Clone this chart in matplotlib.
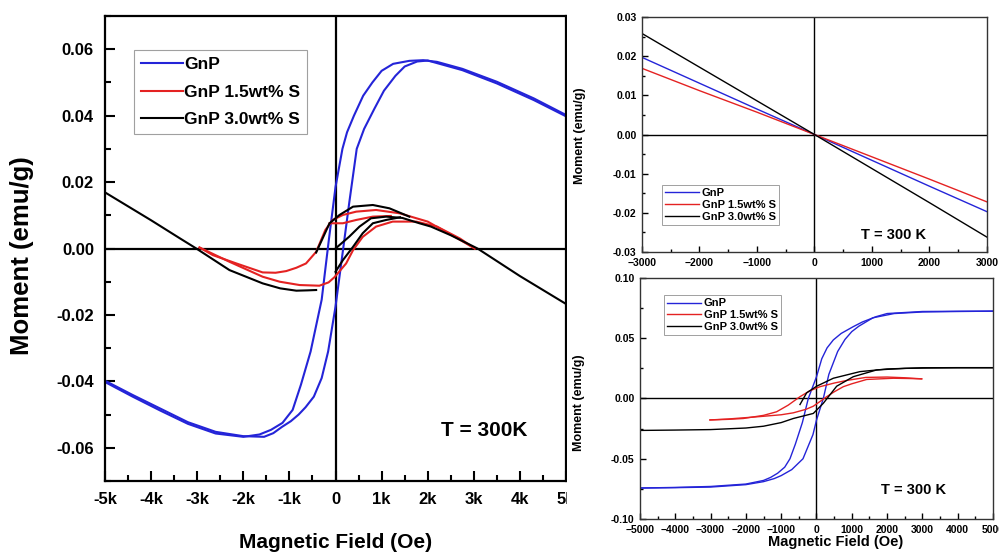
import matplotlib
matplotlib.use("Agg")
import matplotlib.pyplot as plt
from matplotlib.ticker import FixedLocator, FixedFormatter, MultipleLocator
from matplotlib.patches import Rectangle

plt.rcParams['font.family'] = ['Liberation Sans', 'DejaVu Sans']

# ---------------- data: left panel (M-H loops, emu/g vs Oe) ----------------
labels = ["GnP", "GnP 1.5wt% S", "GnP 3.0wt% S"]
colors = ["#2424d8", "#e42222", "#000000"]

gnp_down_h = [5000, 4300, 3500, 2750, 2200, 1900, 1600, 1250, 1000, 800, 600, 400, 250, 150, 0,
              -150, -300, -540, -750, -930, -1150, -1400, -1650, -2000, -2600, -3200, -3800,
              -4400, -5000]
gnp_down_m = [0.0402, 0.0452, 0.0502, 0.0541, 0.0562, 0.0567, 0.0565, 0.0556, 0.0535, 0.0500,
              0.0460, 0.0400, 0.0350, 0.0300, 0.0185, 0.0020, -0.0154, -0.0310, -0.0410,
              -0.0486, -0.0525, -0.0546, -0.0560, -0.0567, -0.0557, -0.0528, -0.0488, -0.0446,
              -0.0402]
gnp_up_h = [-5000, -4400, -3800, -3200, -2600, -2000, -1550, -1350, -1160, -970, -800, -650,
            -470, -300, -160, 0, 100, 200, 300, 460, 620, 840, 1050, 1300, 1500, 1770, 2000,
            2750, 3500, 4300, 5000]
gnp_up_m = [-0.0398, -0.0441, -0.0482, -0.0523, -0.0552, -0.0565, -0.0567, -0.0556, -0.0537,
            -0.0520, -0.0500, -0.0478, -0.0446, -0.0390, -0.0310, -0.0175, -0.0070, 0.0035,
            0.0140, 0.0300, 0.0360, 0.0420, 0.0475, 0.0520, 0.0548, 0.0563, 0.0566, 0.0537,
            0.0497, 0.0447, 0.0398]

s15_a_h = [-2950, -2660, -2150, -1580, -1300, -1070, -850, -640, -420, -220, -60, 160, 450,
           880, 1390, 2000, 2700, 3020]
s15_a_m = [0.0003, -0.0020, -0.0045, -0.0072, -0.0073, -0.0068, -0.0058, -0.0045, -0.0010,
           0.0056, 0.0086, 0.0101, 0.0111, 0.0116, 0.0106, 0.0081, 0.0026, 0.0000]
s15_b_h = [-130, 160, 450, 810, 1200]
s15_b_m = [0.0076, 0.0076, 0.0086, 0.0096, 0.0098]
s15_c_h = [-2950, -2300, -1580, -1210, -780, -350, -150, -20, 230, 380, 590, 880, 1240, 1750,
           2200, 2700, 3020]
s15_c_m = [0.0003, -0.0040, -0.0085, -0.0100, -0.0110, -0.0112, -0.0102, -0.0086, -0.0045,
           -0.0005, 0.0035, 0.0066, 0.0081, 0.0081, 0.0066, 0.0030, 0.0000]

s30_a_h = [-5000, -4000, -3380, -3020, -2300, -1580, -1200, -850, -600, -420]
s30_a_m = [0.0169, 0.0085, 0.0031, 0.0000, -0.0065, -0.0105, -0.0120, -0.0127, -0.0126, -0.0125]
s30_b_h = [-420, -130, 87, 380, 810, 1170, 1600]
s30_b_m = [-0.0012, 0.0076, 0.0101, 0.0126, 0.0131, 0.0121, 0.0096]
s30_c_h = [0, 300, 520, 770, 1100, 1450, 1820, 2070, 2500, 3080, 4000, 5000]
s30_c_m = [0.0000, 0.0036, 0.0066, 0.0091, 0.0096, 0.0092, 0.0076, 0.0066, 0.0040, 0.0000,
           -0.0083, -0.0167]
s30_d_h = [0, 160, 380, 590, 810, 1100, 1400]
s30_d_m = [-0.0070, -0.0035, 0.0005, 0.0046, 0.0076, 0.0086, 0.0094]

left_xticks = [-5000, -4000, -3000, -2000, -1000, 0, 1000, 2000, 3000, 4000, 5000]
left_xticklabels = ["-5k", "-4k", "-3k", "-2k", "-1k", "0", "1k", "2k", "3k", "4k", "5k"]
left_yticks = [-0.06, -0.04, -0.02, 0.0, 0.02, 0.04, 0.06]
left_yticklabels = ["-0.06", "-0.04", "-0.02", "0.00", "0.02", "0.04", "0.06"]

# ---------------- data: top-right panel (linear, +-3000 Oe) ----------------
tr_h = [-3000, -2000, -1000, 0, 1000, 2000, 3000]
tr_gnp = [0.0197, 0.0131, 0.0065, 0.0, -0.0066, -0.0132, -0.0197]
tr_s15 = [0.0169, 0.0112, 0.0057, 0.0, -0.0057, -0.0114, -0.0172]
tr_s30 = [0.0258, 0.0172, 0.0086, 0.0, -0.0087, -0.0174, -0.0262]
tr_xticks = [-3000, -2000, -1000, 0, 1000, 2000, 3000]
tr_yticks = [-0.03, -0.02, -0.01, 0.0, 0.01, 0.02, 0.03]
tr_yticklabels = ["-0.03", "-0.02", "-0.01", "0.00", "0.01", "0.02", "0.03"]

# ---------------- data: bottom-right panel (loops, +-5000 Oe) ----------------
br_gnp_down_h = [5000, 4000, 3000, 2000, 1700, 1300, 1040, 700, 477, 300, 150, 0, -232, -400,
                 -600, -751, -900, -1100, -1300, -1500, -2000, -3000, -4000, -5000]
br_gnp_down_m = [0.0725, 0.0724, 0.0722, 0.0705, 0.0680, 0.0635, 0.0596, 0.0540, 0.0486,
                 0.0420, 0.0330, 0.0180, 0.0, -0.0200, -0.0380, -0.0500, -0.0570, -0.0620,
                 -0.0655, -0.0680, -0.0710, -0.0730, -0.0738, -0.0743]
br_gnp_up_h = [-5000, -4000, -3000, -2000, -1500, -1200, -1000, -700, -382, -100, 0, 193, 350,
               600, 807, 1000, 1200, 1600, 2200, 3000, 4000, 5000]
br_gnp_up_m = [-0.0743, -0.0740, -0.0735, -0.0715, -0.0690, -0.0665, -0.0640, -0.0590, -0.0500,
               -0.0300, -0.0180, 0.0, 0.0200, 0.0390, 0.0490, 0.0555, 0.0600, 0.0670, 0.0705,
               0.0718, 0.0722, 0.0725]
br_s15_up_h = [-3017, -2500, -1600, -1000, -657, -300, -90, 100, 289, 500, 760, 1000, 1422,
               2176, 2600, 2980]
br_s15_up_m = [-0.0178, -0.0170, -0.0150, -0.0135, -0.0119, -0.0090, -0.0064, -0.0025, 0.0015,
               0.0055, 0.0098, 0.0122, 0.0158, 0.0168, 0.0166, 0.0163]
br_s15_down_h = [2980, 2500, 2000, 1400, 860, 500, 99, -200, -467, -800, -1128, -1500, -2074,
                 -2500, -3017]
br_s15_down_m = [0.0163, 0.0172, 0.0178, 0.0175, 0.0150, 0.0128, 0.0098, 0.0062, 0.0015,
                 -0.0055, -0.0110, -0.0140, -0.0166, -0.0173, -0.0178]
br_s30_up_h = [-5000, -4000, -3000, -2000, -1500, -1000, -657, -90, 193, 572, 1043, 1705, 2500,
               3130, 4000, 5000]
br_s30_up_m = [-0.0265, -0.0262, -0.0258, -0.0245, -0.0230, -0.0200, -0.0166, -0.0124, -0.0040,
               0.0102, 0.0181, 0.0237, 0.0250, 0.0253, 0.0255, 0.0255]
br_s30_down_h = [5000, 4000, 3000, 2000, 1232, 476, 6, -278, -467]
br_s30_down_m = [0.0256, 0.0256, 0.0255, 0.0245, 0.0223, 0.0168, 0.0102, 0.0047, -0.0050]
br_xticks = [-5000, -4000, -3000, -2000, -1000, 0, 1000, 2000, 3000, 4000, 5000]
br_yticks = [-0.10, -0.05, 0.0, 0.05, 0.10]
br_yticklabels = ["-0.10", "-0.05", "0.00", "0.05", "0.10"]

# ---------------- figure ----------------
fig = plt.figure(figsize=(9.99, 5.58), dpi=100)
fig.patch.set_facecolor("white")

# ===== Left panel =====
ax = fig.add_axes([0.1051, 0.1380, 0.4615, 0.8333], zorder=0)
lwL = 1.5
ax.plot(gnp_down_h, gnp_down_m, color=colors[0], lw=lwL, label=labels[0])
ax.plot(gnp_up_h, gnp_up_m, color=colors[0], lw=lwL)
ax.plot(s15_a_h, s15_a_m, color=colors[1], lw=lwL, label=labels[1])
ax.plot(s15_b_h, s15_b_m, color=colors[1], lw=lwL)
ax.plot(s15_c_h, s15_c_m, color=colors[1], lw=lwL)
ax.plot(s30_a_h, s30_a_m, color=colors[2], lw=lwL, label=labels[2])
ax.plot(s30_b_h, s30_b_m, color=colors[2], lw=lwL)
ax.plot(s30_c_h, s30_c_m, color=colors[2], lw=lwL)
ax.plot(s30_d_h, s30_d_m, color=colors[2], lw=lwL)
ax.axhline(0, color="black", lw=1.6, zorder=1)
ax.axvline(0, color="black", lw=1.6, zorder=1)
ax.set_xlim(-5000, 5000)
ax.set_ylim(-0.07, 0.07)
ax.xaxis.set_major_locator(FixedLocator(left_xticks))
ax.xaxis.set_major_formatter(FixedFormatter(left_xticklabels))
ax.xaxis.set_minor_locator(MultipleLocator(500))
ax.yaxis.set_major_locator(FixedLocator(left_yticks))
ax.yaxis.set_major_formatter(FixedFormatter(left_yticklabels))
ax.yaxis.set_minor_locator(MultipleLocator(0.01))
ax.tick_params(which="both", direction="in", width=1.5, labelsize=12)
ax.tick_params(which="major", length=7, pad=8)
ax.tick_params(which="minor", length=4)
for lab in ax.get_xticklabels() + ax.get_yticklabels():
    lab.set_fontweight("bold")
for sp in ax.spines.values():
    sp.set_linewidth(1.6)
ax.set_xlabel("Magnetic Field (Oe)", fontsize=15, fontweight="bold", va="center")
ax.xaxis.set_label_coords(0.5, -0.133)
ax.set_ylabel("Moment (emu/g)", fontsize=18.5, fontweight="bold", va="center")
ax.yaxis.set_label_coords(-0.18, 0.484)
ax.text(0.822, 0.108, "T = 300K", transform=ax.transAxes, fontsize=15, fontweight="bold",
        ha="center", va="center")
leg = ax.legend(loc="upper left", bbox_to_anchor=(0.063, 0.927), borderaxespad=0,
                prop={"size": 12.5, "weight": "bold"}, handlelength=2.4, handletextpad=0.1,
                labelspacing=0.72, borderpad=0.4, fancybox=False, framealpha=1)
leg.get_frame().set_edgecolor("#a0a0a0")
leg.get_frame().set_linewidth(0.8)

# white cover where the right-hand images sit
fig.patches.append(Rectangle((567 / 999, 0), 1, 1, transform=fig.transFigure,
                             facecolor="white", edgecolor="none", zorder=1))

def style_small(a):
    a.tick_params(which="both", direction="in", width=1.0, labelsize=7.5, pad=4)
    a.tick_params(which="major", length=4)
    a.tick_params(which="minor", length=2)
    for lab in a.get_xticklabels() + a.get_yticklabels():
        lab.set_fontweight("bold")
    for sp in a.spines.values():
        sp.set_linewidth(1.0)
        sp.set_color("#333333")

# ===== Top-right panel =====
a1 = fig.add_axes([0.6426, 0.5484, 0.3453, 0.4211], zorder=2)
lwS = 1.0
a1.plot(tr_h, tr_gnp, color=colors[0], lw=lwS, label=labels[0])
a1.plot(tr_h, tr_s15, color=colors[1], lw=lwS, label=labels[1])
a1.plot(tr_h, tr_s30, color=colors[2], lw=lwS, label=labels[2])
a1.axhline(0, color="black", lw=1.0, zorder=1)
a1.axvline(0, color="black", lw=1.0, zorder=1)
a1.set_xlim(-3000, 3000)
a1.set_ylim(-0.03, 0.03)
a1.xaxis.set_major_locator(FixedLocator(tr_xticks))
a1.xaxis.set_minor_locator(MultipleLocator(500))
a1.yaxis.set_major_locator(FixedLocator(tr_yticks))
a1.yaxis.set_major_formatter(FixedFormatter(tr_yticklabels))
a1.yaxis.set_minor_locator(MultipleLocator(0.005))
style_small(a1)
a1.set_ylabel("Moment (emu/g)", fontsize=9, fontweight="bold", va="center")
a1.yaxis.set_label_coords(-0.18, 0.494)
a1.text(0.73, 0.072, "T = 300 K", transform=a1.transAxes, fontsize=10.5, fontweight="bold",
        ha="center", va="center")
l1 = a1.legend(loc="upper left", bbox_to_anchor=(0.058, 0.285), borderaxespad=0,
               prop={"size": 8, "weight": "bold"}, handlelength=3.0, handletextpad=0.3,
               labelspacing=0.15, borderpad=0.3, fancybox=False, framealpha=1)
l1.get_frame().set_edgecolor("#a0a0a0")
l1.get_frame().set_linewidth(0.7)

# ===== Bottom-right panel =====
a2 = fig.add_axes([0.6406, 0.0699, 0.3534, 0.4319], zorder=2)
a2.plot(br_gnp_down_h, br_gnp_down_m, color=colors[0], lw=lwS, label=labels[0])
a2.plot(br_gnp_up_h, br_gnp_up_m, color=colors[0], lw=lwS)
a2.plot(br_s15_up_h, br_s15_up_m, color=colors[1], lw=lwS, label=labels[1])
a2.plot(br_s15_down_h, br_s15_down_m, color=colors[1], lw=lwS)
a2.plot(br_s30_up_h, br_s30_up_m, color=colors[2], lw=lwS, label=labels[2])
a2.plot(br_s30_down_h, br_s30_down_m, color=colors[2], lw=lwS)
a2.axhline(0, color="black", lw=1.0, zorder=1)
a2.axvline(0, color="black", lw=1.0, zorder=1)
a2.set_xlim(-5000, 5000)
a2.set_ylim(-0.10, 0.10)
a2.xaxis.set_major_locator(FixedLocator(br_xticks))
a2.xaxis.set_minor_locator(MultipleLocator(500))
a2.yaxis.set_major_locator(FixedLocator(br_yticks))
a2.yaxis.set_major_formatter(FixedFormatter(br_yticklabels))
a2.yaxis.set_minor_locator(MultipleLocator(0.025))
style_small(a2)
a2.set_xlabel("Magnetic Field (Oe)", fontsize=10.5, fontweight="bold", va="center")
a2.xaxis.set_label_coords(0.555, -0.094)
a2.set_ylabel("Moment (emu/g)", fontsize=9, fontweight="bold", va="center")
a2.yaxis.set_label_coords(-0.173, 0.481)
a2.text(0.776, 0.12, "T = 300 K", transform=a2.transAxes, fontsize=10.5, fontweight="bold",
        ha="center", va="center")
l2 = a2.legend(loc="upper left", bbox_to_anchor=(0.068, 0.929), borderaxespad=0,
               prop={"size": 8, "weight": "bold"}, handlelength=3.0, handletextpad=0.3,
               labelspacing=0.15, borderpad=0.3, fancybox=False, framealpha=1)
l2.get_frame().set_edgecolor("#a0a0a0")
l2.get_frame().set_linewidth(0.7)

fig.savefig("out.png", dpi=100, facecolor="white")
